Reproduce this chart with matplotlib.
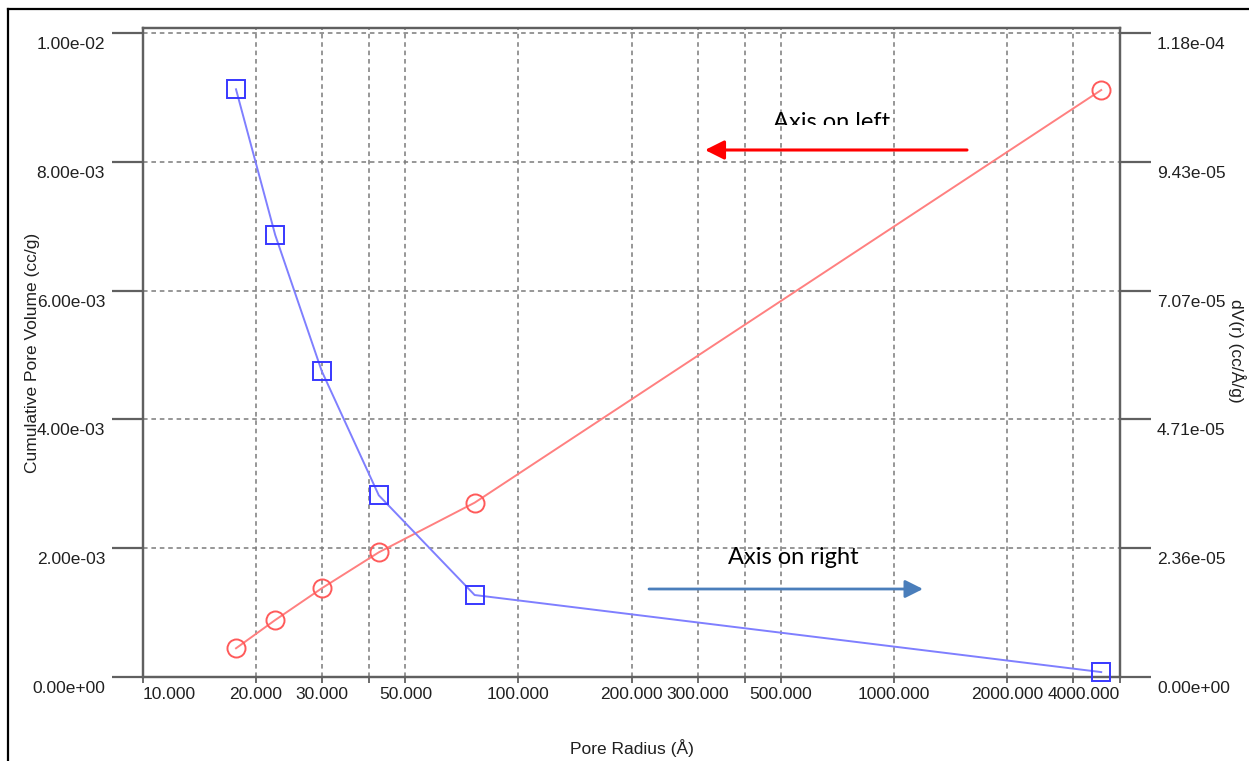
import numpy as np
import matplotlib
matplotlib.use("Agg")
import matplotlib.pyplot as plt
from matplotlib.lines import Line2D
from matplotlib.transforms import ScaledTranslation, Bbox, TransformedBbox

plt.rcParams['font.family'] = ['Liberation Sans', 'DejaVu Sans']

# pore radius (A) and the two series
radius = [17.69, 22.5, 29.92, 42.46, 76.43, 3565.0]
cum_volume = [0.446e-3, 0.885e-3, 1.377e-3, 1.936e-3, 2.707e-3, 9.115e-3]
dv_r = [1.0755e-4, 8.088e-5, 5.600e-5, 3.325e-5, 1.500e-5, 9.0e-7]

x_ticks = [10, 20, 30, 40, 50, 100, 200, 300, 400, 500, 1000, 2000, 3000, 4000]
x_labels = ["10.000", "20.000", "30.000", "", "50.000", "100.000", "200.000",
            "300.000", "", "500.000", "1000.000", "2000.000", "", "4000.000"]
left_ticks = [0, 0.002, 0.004, 0.006, 0.008, 0.010]
left_labels = ["0.00e+00", "2.00e-03", "4.00e-03", "6.00e-03", "8.00e-03", "1.00e-02"]
right_ticks = [0, 2.357e-5, 4.714e-5, 7.071e-5, 9.428e-5, 1.1785e-4]
right_labels = ["0.00e+00", "2.36e-05", "4.71e-05", "7.07e-05", "9.43e-05", "1.18e-04"]

W, H = 1249, 761
fig = plt.figure(figsize=(W / 100, H / 100), dpi=100)

def fx(px):
    return px / W

def fy(py):
    return 1 - py / H

ax = fig.add_axes([fx(143), fy(677), fx(1120) - fx(143), fy(28) - fy(677)])
ax2 = ax.twinx()

spine_col = '#606060'
grid_col = '#7a7a7a'
txt_col = '#202020'

ax.set_xscale('log')
ax.set_xlim(10, 4000)
top_frac = 1.0078
ax.set_ylim(0, 0.010 * top_frac)
ax2.set_ylim(0, 1.1785e-4 * top_frac)

ax.set_xticks(x_ticks)
ax.set_xticklabels(x_labels)
ax.xaxis.set_minor_locator(matplotlib.ticker.NullLocator())
labs = ax.get_xticklabels()
labs[0].set_ha('left')
labs[-1].set_ha('right')

ax.set_yticks(left_ticks)
ax.set_yticklabels(left_labels)
ax2.set_yticks(right_ticks)
ax2.set_yticklabels(right_labels)

ax.grid(True, which='major', color=grid_col, linestyle=(0, (3, 2.5)), linewidth=1.1)

for a in (ax, ax2):
    for s in a.spines.values():
        s.set_color(spine_col)
        s.set_linewidth(1.6)

ax.tick_params(axis='x', direction='out', length=4.5, width=1.3, color=spine_col,
               pad=3, labelsize=12.5, labelcolor=txt_col)
ax.tick_params(axis='y', direction='out', length=22.3, width=1.6, color=spine_col,
               pad=5, labelsize=12.5, labelcolor=txt_col)
ax2.tick_params(axis='y', direction='out', length=22.3, width=1.6, color=spine_col,
                pad=4.3, labelsize=12.5, labelcolor=txt_col)

# labels sit a bit below their tick lines
off = ScaledTranslation(0, -0.10, fig.dpi_scale_trans)
for lab in ax.get_yticklabels() + ax2.get_yticklabels():
    lab.set_transform(lab.get_transform() + off)

ax.plot(radius, cum_volume, color='#ff8080', lw=1.4, marker='o', ms=13,
        mfc='none', mec='#ff5a5a', mew=1.4, zorder=3, clip_on=False)
ax2.plot(radius, dv_r, color='#7f7fff', lw=1.4, marker='s', ms=13,
         mfc='none', mec='#3838ff', mew=1.4, zorder=3, clip_on=False)

ax.set_xlabel('Pore Radius (Å)', fontsize=12.5, color=txt_col)
ax.xaxis.set_label_coords(0.5, -0.1094)
ax.xaxis.label.set_va('center')
ax.set_ylabel('Cumulative Pore Volume (cc/g)', fontsize=12.5, color=txt_col)
ax.yaxis.set_label_coords(-0.1126, 0.5)
ax.yaxis.label.set_va('center')
ax2.set_ylabel('dV(r) (cc/Å/g)', fontsize=12.5, color=txt_col, rotation=-90)
ax2.yaxis.set_label_coords(1.1195, 0.502)
ax2.yaxis.label.set_va('center')

# annotations
t = fig.text(fx(773), fy(129), 'Axis on left', fontsize=17, family=['Lato', 'DejaVu Sans'],
             ha='left', va='baseline', color='black')
t.set_clip_box(TransformedBbox(Bbox.from_extents(0, fy(125), 1, 1), fig.transFigure))
t.set_clip_on(True)
fig.text(fx(793), fy(557), 'Axis on right', fontsize=17, family=['Lato', 'DejaVu Sans'],
         ha='center', va='center', color='black')

ax.annotate('', xy=(fx(705), fy(150)), xytext=(fx(967), fy(150)),
            xycoords='figure fraction', textcoords='figure fraction',
            arrowprops=dict(arrowstyle='-|>,head_length=0.4,head_width=0.2', color='red',
                            lw=2.2, mutation_scale=29, shrinkA=0, shrinkB=0))
ax.annotate('', xy=(fx(923), fy(589)), xytext=(fx(649), fy(589)),
            xycoords='figure fraction', textcoords='figure fraction',
            arrowprops=dict(arrowstyle='-|>,head_length=0.4,head_width=0.2', color='#4a7ebb',
                            lw=2.0, mutation_scale=27, shrinkA=0, shrinkB=0))

# outer frame of the screenshot (top and left only)
fig.add_artist(Line2D([fx(8), 1], [fy(9), fy(9)], color='black', lw=1.6))
fig.add_artist(Line2D([fx(8), fx(8)], [0, fy(9)], color='black', lw=1.6))

fig.savefig('out.png', dpi=100)
